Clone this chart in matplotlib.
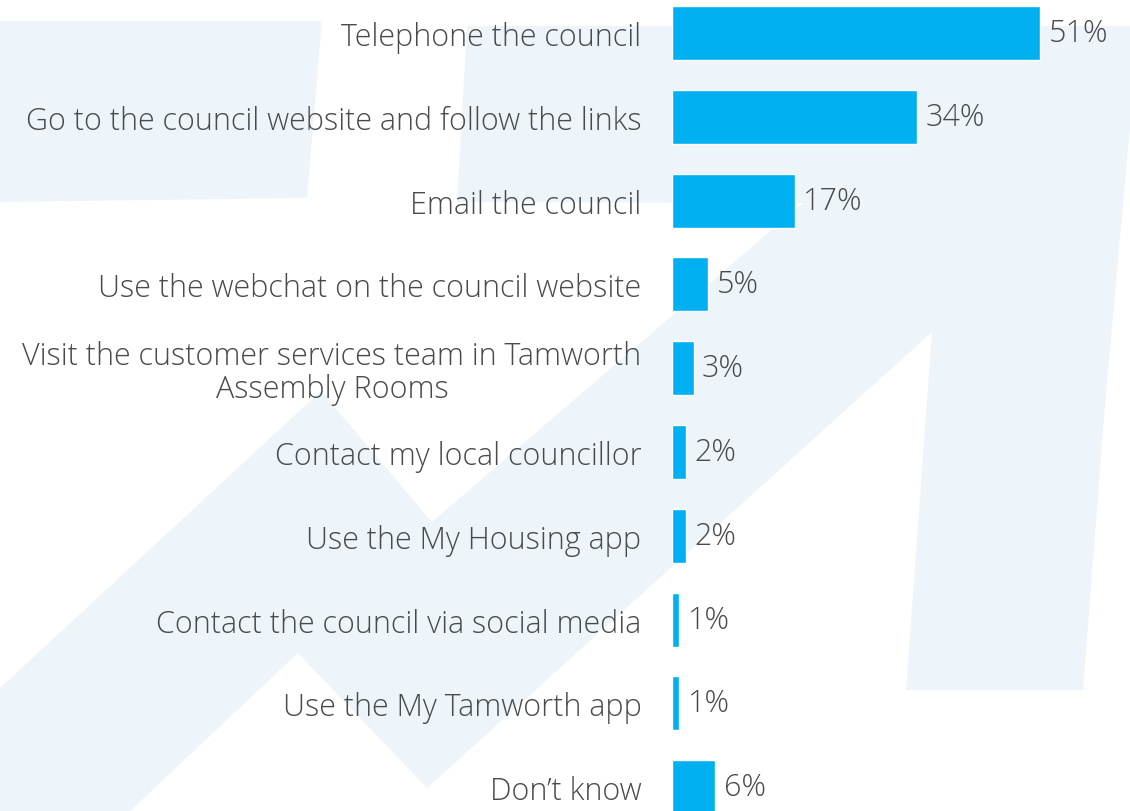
import matplotlib
matplotlib.use("Agg")
from matplotlib import pyplot as plt
from matplotlib.patches import Polygon

# --- data ---
CATEGORIES = [
    "Telephone the council",
    "Go to the council website and follow the links",
    "Email the council",
    "Use the webchat on the council website",
    "Visit the customer services team in Tamworth\nAssembly Rooms",
    "Contact my local councillor",
    "Use the My Housing app",
    "Contact the council via social media",
    "Use the My Tamworth app",
    "Don\u2019t know",
]
SHARES = [51, 34, 17, 5, 3, 2, 2, 1, 1, 6]

BAR_COLOR = "#00B0F0"
TEXT_COLOR = "#4A4A4A"
WATERMARK = "#EEF5FA"
FONT = ["Open Sans", "DejaVu Sans"]
FS = 22

W, H = 1130, 812
fig = plt.figure(figsize=(W / 100, H / 100), dpi=100)
fig.patch.set_facecolor("white")

# faint background logo, drawn in pixel coords (y measured from top)
bg = fig.add_axes([0, 0, 1, 1], zorder=0)
bg.set_xlim(0, W)
bg.set_ylim(H, 0)
bg.axis("off")
bg_shapes = [
    [(0, 22), (322, 22), (307, 199), (0, 203)],
    [(0, 812), (0, 689), (321, 392), (432, 523), (803, 204), (457, 203),
     (467, 27), (1139, 27), (1105, 406), (1083, 691), (906, 691),
     (932, 333), (427, 789), (298, 654), (130, 812)],
]
for pts in bg_shapes:
    bg.add_patch(Polygon(pts, closed=True, facecolor=WATERMARK, edgecolor="none"))

# chart axes: bars start at x=672px, 7.22 px per percentage point
x0 = 672
px_per_pct = 7.22
ax = fig.add_axes([x0 / W, 0, 1 - x0 / W, 1], zorder=1)
ax.patch.set_alpha(0)

row_px = 83.8
first_px = 34
ypos = list(range(len(CATEGORIES)))
bars = ax.barh(ypos, SHARES, height=0.645, color=BAR_COLOR,
               edgecolor="white", linewidth=1.0, zorder=3)

ax.set_xlim(0, (W - x0) / px_per_pct)
ax.set_ylim(len(CATEGORIES) - 1 + (H - (first_px + row_px * (len(CATEGORIES) - 1))) / row_px,
            -first_px / row_px)

ax.set_yticks(ypos)
ax.set_yticklabels(CATEGORIES, fontsize=FS, color=TEXT_COLOR,
                   family=FONT, fontweight="light", linespacing=1.05)
for lbl in ax.get_yticklabels():
    lbl.set_multialignment("center")
ax.tick_params(axis="y", length=0, pad=22)
ax.set_xticks([])
for s in ax.spines.values():
    s.set_visible(False)

ax.bar_label(bars, labels=[f"{v}%" for v in SHARES], padding=6,
             fontsize=FS, color=TEXT_COLOR, family=FONT, fontweight="light")

fig.savefig("out.png", dpi=100)
